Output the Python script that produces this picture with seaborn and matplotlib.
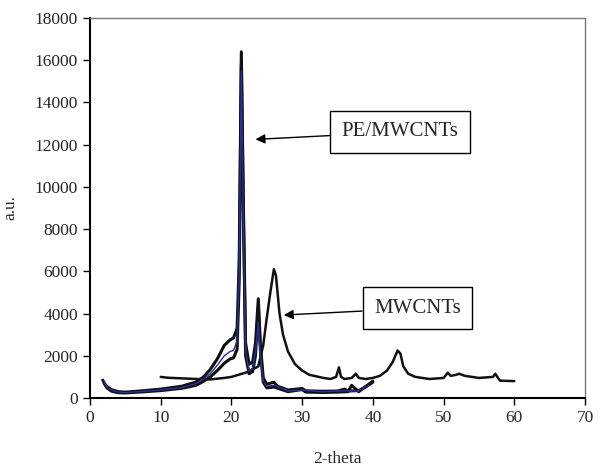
import pandas as pd
import matplotlib
matplotlib.use("Agg")
import matplotlib.pyplot as plt
import seaborn as sns

# PE/MWCNTs scans (2-theta, intensity)
pe_upper_x = [1.8, 2.2, 3.0, 4.0, 5.0, 7.0, 10.0, 13.0, 15.0, 16.0, 17.0, 18.0, 19.0, 19.8, 20.3, 20.8, 21.1,
              21.4, 21.7, 22.0, 22.5, 23.0, 23.4, 23.8, 24.1, 24.5, 25.0, 26.0, 26.5, 28.0, 30.0, 30.5, 33.0,
              35.0, 36.0, 36.5, 38.0, 39.0, 40.0]
pe_upper_y = [850, 600, 400, 300, 280, 330, 420, 560, 760, 980, 1350, 1850, 2500, 2750, 2850, 3300, 6500,
              16400, 9000, 2600, 1600, 1700, 2600, 4700, 2500, 950, 650, 750, 560, 380, 450, 340, 320,
              330, 420, 330, 350, 520, 750]

pe_blue_x = [2.0, 2.3, 3.0, 4.0, 5.0, 7.0, 10.0, 13.0, 15.0, 16.0, 17.0, 18.0, 19.0, 19.8, 20.3, 20.8, 21.1,
             21.4, 21.7, 22.0, 22.5, 23.0, 23.4, 23.8, 24.1, 24.5, 25.0, 26.0, 28.0, 30.0, 33.0, 36.0, 38.0,
             39.5]
pe_blue_y = [780, 560, 380, 280, 260, 300, 380, 500, 680, 880, 1150, 1550, 2000, 2200, 2250, 2700, 6000,
             15500, 8000, 2200, 1300, 1400, 2200, 3600, 2000, 800, 550, 600, 330, 380, 290, 350, 330,
             600]

pe_lower_x = [2.0, 2.4, 3.0, 4.0, 5.0, 7.0, 10.0, 13.0, 15.0, 16.0, 17.0, 18.0, 19.0, 19.8, 20.3, 20.8, 21.1,
              21.4, 21.7, 22.0, 22.5, 23.0, 23.4, 23.8, 24.1, 24.5, 25.0, 26.0, 28.0, 30.0, 30.5, 33.0, 35.0,
              36.5, 37.0, 38.0, 40.0]
pe_lower_y = [700, 480, 330, 250, 240, 280, 350, 460, 600, 780, 1000, 1300, 1650, 1850, 1900, 2300, 5500,
              15800, 8500, 2000, 1150, 1250, 2000, 4300, 2200, 750, 480, 520, 300, 400, 280, 260, 280,
              300, 600, 300, 800]

# MWCNTs scan
cnt_x = [10.0, 11.0, 13.0, 15.0, 17.0, 19.0, 20.0, 21.0, 22.0, 23.0, 23.8, 24.5, 25.0, 25.5, 26.0, 26.3, 26.8,
         27.3, 28.0, 29.0, 30.0, 31.0, 33.0, 34.0, 34.8, 35.2, 35.5, 36.0, 37.0, 37.6, 38.0, 39.0, 40.0, 41.0,
         42.0, 42.8, 43.5, 43.9, 44.3, 45.0, 46.0, 48.0, 50.0, 50.6, 51.0, 51.8, 52.2, 53.0, 55.0, 57.0,
         57.3, 57.7, 58.0, 60.0]
cnt_y = [1000, 960, 930, 900, 880, 950, 1000, 1100, 1200, 1350, 1500, 2500, 3800, 5000, 6100, 5800, 4000,
         3000, 2200, 1600, 1300, 1100, 950, 900, 1000, 1450, 1000, 900, 950, 1150, 950, 900, 950, 1050,
         1300, 1700, 2250, 2100, 1500, 1150, 1000, 900, 950, 1200, 1050, 1100, 1150, 1050, 950, 1000,
         1150, 950, 820, 800]

x_ticks = [0, 10, 20, 30, 40, 50, 60, 70]
y_ticks = [0, 2000, 4000, 6000, 8000, 10000, 12000, 14000, 16000, 18000]

sns.set_style("white")
plt.rcParams['font.family'] = ['Liberation Serif', 'DejaVu Serif']

fig = plt.figure(figsize=(6.01, 4.67), dpi=100)
ax = fig.add_axes([90 / 601, 1 - 398 / 467, 495 / 601, 380 / 467])

curves = [
    (pe_upper_x, pe_upper_y, '#111111', 2.2),
    (pe_lower_x, pe_lower_y, '#111111', 2.2),
    (cnt_x, cnt_y, '#111111', 1.8),
    (pe_blue_x, pe_blue_y, '#2b2f9e', 1.0),
]
for xs, ys, col, lw in curves:
    df = pd.DataFrame({'x': xs, 'y': ys})
    sns.lineplot(data=df, x='x', y='y', sort=False, estimator=None, color=col, linewidth=lw, ax=ax)

ax.set_xlim(0, 70)
ax.set_ylim(0, 18000)
ax.set_xticks(x_ticks)
ax.set_yticks(y_ticks)
ax.tick_params(axis='both', direction='out', length=5, width=1, labelsize=12.5, color='black',
               bottom=True, left=True)
ax.set_xlabel('2-theta', fontsize=12.5, labelpad=18)
ax.set_ylabel('a.u.', fontsize=12.5, labelpad=12)

for side in ['top', 'right']:
    ax.spines[side].set_color('#777777')
    ax.spines[side].set_linewidth(1)
for side in ['left', 'bottom']:
    ax.spines[side].set_color('black')
    ax.spines[side].set_linewidth(1.5)

box = dict(boxstyle='square,pad=0.55', facecolor='white', edgecolor='black', linewidth=1)
arrow = dict(arrowstyle='-|>', color='black', lw=1, mutation_scale=14, shrinkA=0, shrinkB=0)
ax.annotate('PE/MWCNTs', xy=(23.4, 12250), xytext=(43.8, 12600), fontsize=15,
            ha='center', va='center', bbox=box, arrowprops=arrow)
ax.annotate('MWCNTs', xy=(27.4, 3930), xytext=(46.3, 4250), fontsize=15,
            ha='center', va='center', bbox=box, arrowprops=arrow)

fig.savefig('out.png', dpi=100)
